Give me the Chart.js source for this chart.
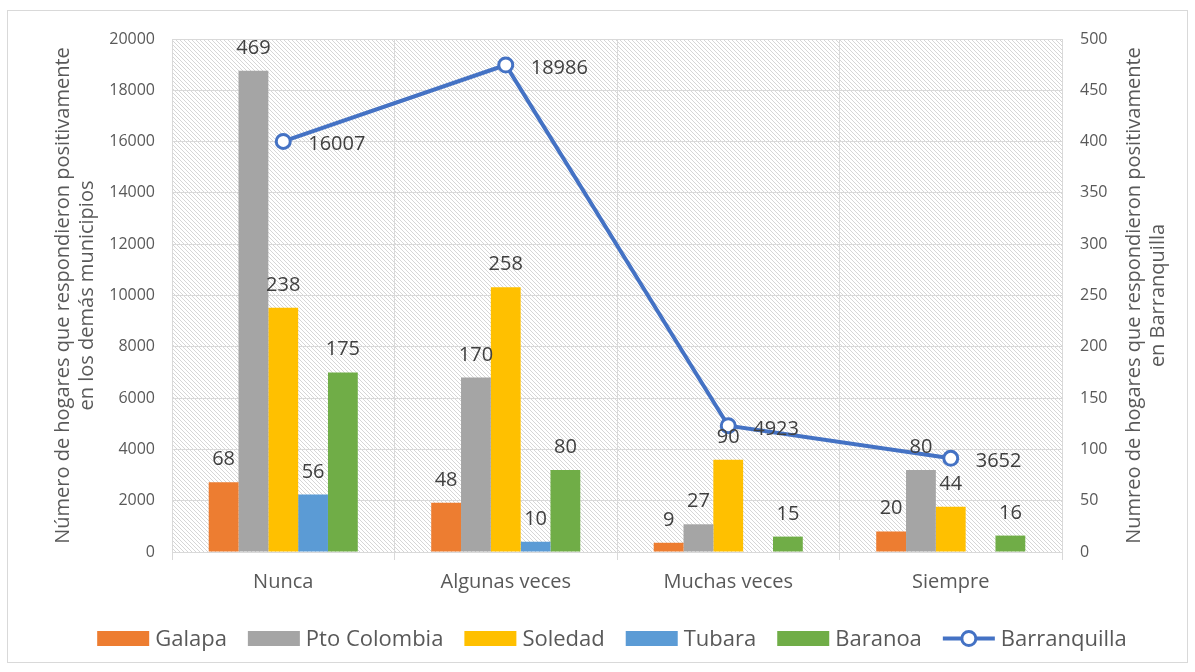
<!DOCTYPE html>
<html>
<head>
<meta charset="utf-8">
<script src="https://cdn.jsdelivr.net/npm/chart.js@4/dist/chart.umd.min.js"></script>
<style>
  html, body { margin: 0; padding: 0; background: #fff; }
  #wrap { width: 1195px; height: 672px; }
</style>
</head>
<body>
<div id="wrap"><canvas id="chart" width="1195" height="672"></canvas></div>
<script>
// categories and series
const categories = ["Nunca", "Algunas veces", "Muchas veces", "Siempre"];
const galapa = [68, 48, 9, 20];
const ptoColombia = [469, 170, 27, 80];
const soledad = [238, 258, 90, 44];
const tubara = [56, 10, null, null];
const baranoa = [175, 80, 15, 16];
const barranquilla = [16007, 18986, 4923, 3652];

const leftTitle = ["Número de hogares que respondieron positivamente", "en los demás municipios"];
const rightTitle = ["Numreo de hogares que respondieron positivamente", "en Barranquilla"];

const FONT = "'Open Sans', 'Noto Sans', sans-serif";
const TEXT = "#595959";
const LABEL = "#404040";
const GRID = "#d9d9d9";

// diagonal hatch used as the plot area fill
const makeHatch = () => {
  const c = document.createElement("canvas");
  c.width = 4;
  c.height = 4;
  const g = c.getContext("2d");
  g.fillStyle = "#ffffff";
  g.fillRect(0, 0, 4, 4);
  g.fillStyle = "#d6d6d6";
  for (let i = 0; i < 4; i++) g.fillRect(i, i, 1, 1);
  return g.createPattern(c, "repeat");
};

const backgroundPlugin = {
  id: "hatchBg",
  beforeDraw(chart) {
    const { ctx, chartArea: a } = chart;
    ctx.save();
    ctx.fillStyle = "#fff";
    ctx.fillRect(0, 0, chart.width, chart.height);
    ctx.strokeStyle = GRID;
    ctx.lineWidth = 1;
    ctx.strokeRect(7.5, 10.5, 1180, 652);
    ctx.fillStyle = makeHatch();
    ctx.fillRect(a.left, a.top, a.right - a.left, a.bottom - a.top);
    ctx.restore();
  },
};

// value labels: above bars, right of line points
const labelPlugin = {
  id: "valueLabels",
  afterDatasetsDraw(chart) {
    const { ctx } = chart;
    ctx.save();
    ctx.font = `20px ${FONT}`;
    ctx.fillStyle = LABEL;
    chart.data.datasets.forEach((ds, i) => {
      const meta = chart.getDatasetMeta(i);
      meta.data.forEach((el, j) => {
        const v = ds.data[j];
        if (v === null || v === undefined) return;
        if (ds.type === "line") {
          ctx.textAlign = "left";
          ctx.textBaseline = "alphabetic";
          ctx.fillText(String(v), el.x + 25, el.y + 9);
        } else {
          ctx.textAlign = "center";
          ctx.textBaseline = "alphabetic";
          ctx.fillText(String(v), el.x, el.y - 17);
        }
      });
    });
    ctx.restore();
  },
};

// right axis title (reads bottom to top) and legend
const extrasPlugin = {
  id: "extras",
  afterDraw(chart) {
    const { ctx, chartArea: a } = chart;
    ctx.save();
    ctx.fillStyle = TEXT;
    ctx.font = `20px ${FONT}`;
    ctx.textAlign = "center";
    ctx.textBaseline = "middle";
    ctx.translate(1134, (a.top + a.bottom) / 2);
    ctx.rotate(-Math.PI / 2);
    rightTitle.forEach((t, i) => ctx.fillText(t, 0, i * 24));
    ctx.restore();

    // legend
    ctx.save();
    ctx.font = `22px ${FONT}`;
    ctx.textBaseline = "middle";
    ctx.textAlign = "left";
    const items = chart.data.datasets
      .slice()
      .sort((p, q) => (p.type === "line") - (q.type === "line"));
    const boxW = 52, gapText = 6, gapItem = 21;
    let total = 0;
    items.forEach((ds, i) => {
      total += boxW + gapText + ctx.measureText(ds.label).width;
      if (i < items.length - 1) total += gapItem;
    });
    let x = 612 - total / 2;
    const y = 638.5;
    items.forEach((ds) => {
      if (ds.type === "line") {
        ctx.strokeStyle = ds.borderColor;
        ctx.lineWidth = 4;
        ctx.beginPath();
        ctx.moveTo(x, y);
        ctx.lineTo(x + boxW, y);
        ctx.stroke();
        ctx.beginPath();
        ctx.arc(x + boxW / 2, y, 7, 0, Math.PI * 2);
        ctx.fillStyle = "#fff";
        ctx.fill();
        ctx.lineWidth = 3;
        ctx.stroke();
      } else {
        ctx.fillStyle = ds.backgroundColor;
        ctx.fillRect(x, y - 7.5, boxW, 15);
      }
      x += boxW + gapText;
      ctx.fillStyle = TEXT;
      ctx.fillText(ds.label, x, y + 1);
      x += ctx.measureText(ds.label).width + gapItem;
    });
    ctx.restore();
  },
};

const barSet = (label, data, color) => ({
  type: "bar",
  label: label,
  data: data,
  backgroundColor: color,
  yAxisID: "y1",
  order: 1,
  categoryPercentage: 0.67,
  barPercentage: 1.0,
});

new Chart(document.getElementById("chart").getContext("2d"), {
  data: {
    labels: categories,
    datasets: [
      barSet("Galapa", galapa, "#ED7D31"),
      barSet("Pto Colombia", ptoColombia, "#A5A5A5"),
      barSet("Soledad", soledad, "#FFC000"),
      barSet("Tubara", tubara, "#5B9BD5"),
      barSet("Baranoa", baranoa, "#70AD47"),
      {
        type: "line",
        label: "Barranquilla",
        data: barranquilla,
        yAxisID: "y",
        order: 0,
        borderColor: "#4472C4",
        borderWidth: 4,
        pointRadius: 7,
        pointBorderWidth: 3,
        pointBackgroundColor: "#ffffff",
        pointBorderColor: "#4472C4",
        tension: 0,
      },
    ],
  },
  options: {
    responsive: false,
    animation: false,
    layout: { padding: { left: 8, right: 8, top: 39, bottom: 0 } },
    plugins: {
      legend: { display: false },
      tooltip: { enabled: false },
    },
    scales: {
      x: {
        offset: true,
        grid: { color: GRID, tickLength: 8, offset: true },
        border: { display: false },
        ticks: { color: TEXT, font: { family: FONT, size: 20 }, padding: 10 },
        afterFit: (s) => { s.height = 120; },
      },
      y: {
        position: "left",
        min: 0,
        max: 20000,
        ticks: {
          stepSize: 2000,
          color: TEXT,
          font: { family: FONT, size: 16 },
          padding: 17,
          callback: (v) => String(v),
        },
        grid: { color: GRID, drawTicks: false },
        border: { display: false },
        title: {
          display: true,
          text: leftTitle,
          color: TEXT,
          font: { family: FONT, size: 20, lineHeight: 1.2 },
          padding: { top: 43, bottom: 0 },
        },
        afterFit: (s) => { s.width = 164; },
      },
      y1: {
        position: "right",
        min: 0,
        max: 500,
        ticks: {
          stepSize: 50,
          color: TEXT,
          font: { family: FONT, size: 16 },
          padding: 18,
          callback: (v) => String(v),
        },
        grid: { drawOnChartArea: false, drawTicks: false },
        border: { display: false },
        afterFit: (s) => { s.width = 125; },
      },
    },
  },
  plugins: [backgroundPlugin, labelPlugin, extrasPlugin],
});
</script>
</body>
</html>
